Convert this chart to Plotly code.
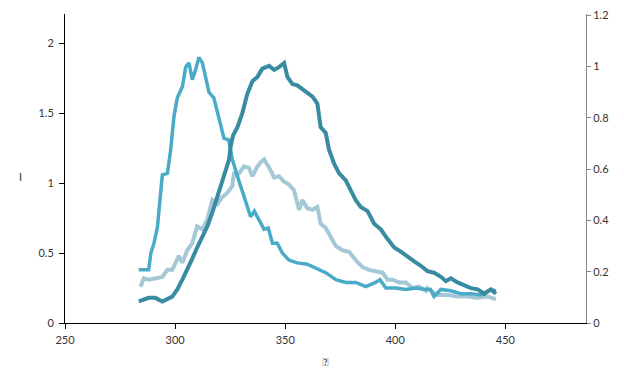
import plotly.graph_objects as go

# Series A (medium blue, left axis)
a_x = [283.5, 288, 289, 290.4, 292, 293.4, 294.2, 296.5, 298, 299.5, 301, 303.3, 304.8, 306.3,
       307.8, 309.3, 310.8, 312.4, 313.9, 315.4, 317.6, 319.2, 320.7, 322.2, 324.3, 326, 328.3,
       330.5, 332, 333.5, 334.3, 336, 338, 340.4, 342.3, 344.2, 346.4, 348.7, 351.7, 355.5, 360,
       364.6, 368.4, 373, 377.5, 382, 386.6, 391, 393, 395.7, 400.2, 404.8, 409.3, 413.9, 416,
       417.6, 420.7, 425.2, 429.8, 434.3, 438.9, 443.4, 445.7]
a_y = [0.38, 0.38, 0.50, 0.57, 0.69, 0.95, 1.06, 1.07, 1.24, 1.48, 1.61, 1.69, 1.83, 1.86,
       1.74, 1.81, 1.90, 1.86, 1.76, 1.65, 1.61, 1.50, 1.40, 1.32, 1.31, 1.17, 1.05,
       0.95, 0.88, 0.81, 0.76, 0.80, 0.74, 0.67, 0.68, 0.57, 0.57, 0.50, 0.45, 0.43, 0.42,
       0.39, 0.36, 0.31, 0.29, 0.29, 0.26, 0.29, 0.31, 0.25, 0.25, 0.24, 0.25, 0.24, 0.24,
       0.19, 0.24, 0.23, 0.21, 0.21, 0.20, 0.24, 0.23]

# Series B (dark teal, right axis)
b_x = [283.5, 288, 291, 294.2, 298.7, 301, 303.3, 305.5, 307.8, 310, 312.4, 314.6, 316.9, 319.2,
       321.4, 322.9, 324.5, 325.2, 326.3, 328.3, 330.5, 332.8, 335.1, 337.4, 339.6, 342.7, 345,
       347.2, 349.5, 351, 353.3, 355.5, 357.8, 360, 362.4, 364.6, 366.1, 368.4, 369.9, 372.2,
       374.5, 377.5, 379.8, 382, 384.3, 387.4, 390.4, 393.4, 396.5, 399.5, 402.5, 405.6, 408.6,
       411.6, 414.6, 417.6, 420.7, 423, 425.2, 428.3, 431.3, 434.3, 437.4, 440.4, 443.4, 445.7]
b_y = [0.084, 0.098, 0.098, 0.084, 0.103, 0.131, 0.169, 0.207, 0.251, 0.294, 0.338, 0.376, 0.430, 0.490,
       0.545, 0.583, 0.637, 0.686, 0.730, 0.763, 0.817, 0.893, 0.942, 0.959, 0.991, 1.002, 0.986,
       0.997, 1.013, 0.959, 0.931, 0.926, 0.910, 0.899, 0.882, 0.855, 0.763, 0.741, 0.675, 0.621,
       0.583, 0.556, 0.517, 0.479, 0.452, 0.436, 0.387, 0.365, 0.327, 0.294, 0.278, 0.261, 0.240,
       0.223, 0.202, 0.196, 0.180, 0.163, 0.174, 0.158, 0.147, 0.136, 0.131, 0.114, 0.131, 0.114]

# Series C (light blue, left axis)
c_x = [284.3, 285.8, 288, 291, 294.2, 296.5, 298.7, 301.7, 303.3, 305.5, 307.8, 310, 312.4, 314.6,
       316.9, 319.2, 321.4, 323.7, 326, 326.7, 329, 331.3, 333.5, 335.1, 337.4, 338.9, 340.4, 342.7,
       345, 347.2, 349.5, 351.7, 354, 356.3, 357.8, 360, 362.4, 364.6, 366.1, 368.4, 370.7, 373,
       376, 379, 382, 385.1, 388.1, 391.1, 394.2, 396.5, 398.7, 401.7, 404.8, 407.8, 410.8, 413.9,
       414.6, 419.2, 423.7, 428.3, 432.8, 437.4, 441.9, 445.7]
c_y = [0.26, 0.32, 0.31, 0.32, 0.33, 0.38, 0.38, 0.48, 0.43, 0.52, 0.57, 0.69, 0.67, 0.74,
       0.88, 0.85, 0.90, 0.93, 0.98, 1.07, 1.07, 1.12, 1.11, 1.05, 1.12, 1.15, 1.17, 1.11,
       1.04, 1.05, 1.01, 0.99, 0.95, 0.81, 0.88, 0.82, 0.81, 0.83, 0.71, 0.68, 0.62, 0.55,
       0.52, 0.51, 0.45, 0.40, 0.38, 0.37, 0.36, 0.31, 0.31, 0.29, 0.29, 0.25, 0.26, 0.23,
       0.25, 0.20, 0.20, 0.19, 0.19, 0.18, 0.19, 0.17]

x_ticks = [250, 300, 350, 400, 450]
y2_ticks = [0, 0.2, 0.4, 0.6, 0.8, 1, 1.2]
y2_labels = ["0", "0.2", "0.4", "0.6", "0.8", "1", "1.2"]

fig = go.Figure()
fig.add_trace(go.Scatter(x=c_x, y=c_y, mode="lines", line=dict(color="#a5c8d6", width=4), yaxis="y"))
fig.add_trace(go.Scatter(x=a_x, y=a_y, mode="lines", line=dict(color="#4aabc6", width=3.5), yaxis="y"))
fig.add_trace(go.Scatter(x=b_x, y=b_y, mode="lines", line=dict(color="#388ba1", width=4), yaxis="y2"))

ML, MR, MT, MB = 57, 46, 6, 76
font = dict(family="Lato, Open Sans, sans-serif", size=11, color="#333333")
fig.update_layout(
    width=624, height=391,
    margin=dict(l=ML, r=MR, t=MT, b=MB, autoexpand=False),
    paper_bgcolor="white", plot_bgcolor="white",
    showlegend=False,
    font=font,
    xaxis=dict(range=[250, 486.6], tickvals=x_ticks, showgrid=False, zeroline=False,
               showline=True, linecolor="black", linewidth=1, ticks="outside", ticklen=5,
               tickcolor="black", tickfont=font, ticklabelstandoff=2, automargin=False,
               title=dict(text="\uE000", font=dict(size=11, color="#333333"), standoff=13)),
    yaxis=dict(range=[0, 2.21], dtick=0.5, showgrid=False, zeroline=False,
               showline=True, linecolor="black", linewidth=1, ticks="outside", ticklen=5,
               tickcolor="black", tickfont=font, ticklabelstandoff=3, automargin=False,
               ticklabeloverflow="allow"),
    yaxis2=dict(range=[0, 1.204], tickvals=y2_ticks, ticktext=y2_labels,
                overlaying="y", side="right", showgrid=False,
                zeroline=False, showline=True, linecolor="#888888", linewidth=1,
                ticks="outside", ticklen=4, tickcolor="#888888", tickfont=font,
                automargin=False, ticklabeloverflow="allow"),
)
pw, ph = 624 - ML - MR, 391 - MT - MB
fig.add_annotation(text="I", x=(9 - ML) / pw, y=1 - (169 - MT) / ph, xref="paper", yref="paper",
                   showarrow=False, font=dict(size=11, color="#333333"))

fig.write_html("out.html")
